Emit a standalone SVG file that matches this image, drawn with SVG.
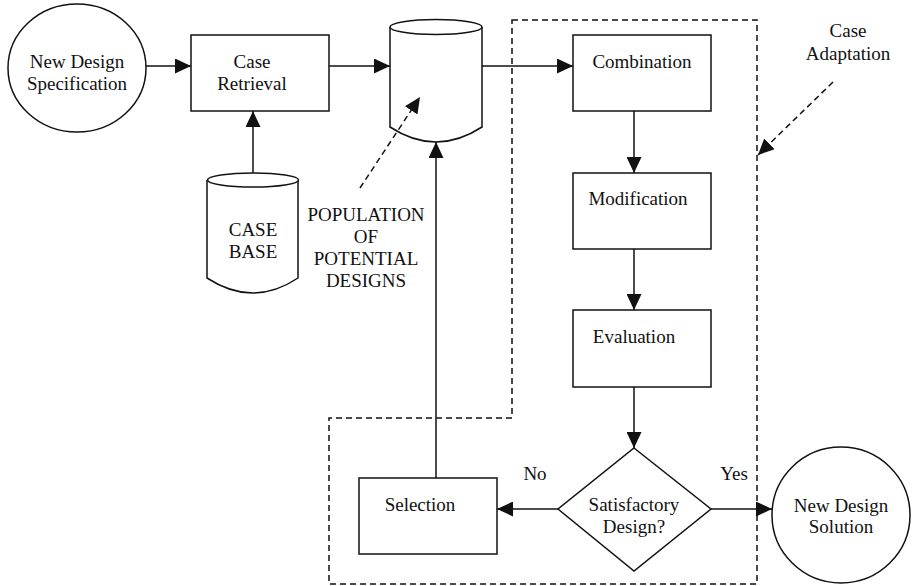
<svg xmlns="http://www.w3.org/2000/svg" width="912" height="586" viewBox="0 0 912 586">
  <style>
    text { font-family: "Liberation Serif", "Times New Roman", Times, serif; font-size: 19px; fill: #111; text-anchor: middle; }
    .shape { fill: #fff; stroke: #111; stroke-width: 1.5; }
    .edge { fill: none; stroke: #111; stroke-width: 1.5; }
    .dash { fill: none; stroke: #111; stroke-width: 1.5; stroke-dasharray: 6 4; }
  </style>
  <defs>
    <marker id="arrow" viewBox="0 0 16 15" refX="16" refY="7.5" markerWidth="16" markerHeight="15" markerUnits="userSpaceOnUse" orient="auto">
      <path d="M0,0 L16,7.5 L0,15 Z" fill="#111" stroke="none"/>
    </marker>
  </defs>

  <rect width="912" height="586" fill="#fff"/>

  <!-- adaptation boundary -->
  <path id="adaptation-boundary" class="dash" d="M512,20 H757 V584 H329 V418 H512 Z"/>

  <g id="connectors">
    <line class="edge" x1="146" y1="66" x2="191" y2="66" marker-end="url(#arrow)"/>
    <line class="edge" x1="329" y1="66" x2="390" y2="66" marker-end="url(#arrow)"/>
    <line class="edge" x1="482" y1="66" x2="573" y2="66" marker-end="url(#arrow)"/>
    <line class="edge" x1="253" y1="173" x2="253" y2="111" marker-end="url(#arrow)"/>
    <line class="edge" x1="634" y1="111" x2="634" y2="173" marker-end="url(#arrow)"/>
    <line class="edge" x1="634" y1="249" x2="634" y2="310" marker-end="url(#arrow)"/>
    <line class="edge" x1="634" y1="387" x2="634" y2="448" marker-end="url(#arrow)"/>
    <line class="edge" x1="558" y1="509" x2="497" y2="509" marker-end="url(#arrow)"/>
    <line class="edge" x1="711" y1="509" x2="772" y2="509" marker-end="url(#arrow)"/>
    <line class="edge" x1="436" y1="478" x2="436" y2="142" marker-end="url(#arrow)"/>
    <text x="535" y="480">No</text>
    <text x="734" y="480">Yes</text>
  </g>

  <g id="new-design-specification">
    <ellipse class="shape" cx="77" cy="68" rx="69" ry="64"/>
    <text x="77" y="68">New Design</text>
    <text x="77" y="90">Specification</text>
  </g>

  <g id="case-retrieval">
    <rect class="shape" x="191" y="35" width="138" height="76"/>
    <text x="252" y="68">Case</text>
    <text x="252" y="90">Retrieval</text>
  </g>

  <g id="population">
    <path class="shape" d="M390,27 V127 Q436,157 482,127 V27"/>
    <ellipse class="shape" cx="436" cy="27" rx="46" ry="7.5"/>
  </g>

  <g id="population-label">
    <text x="366" y="221">POPULATION</text>
    <text x="366" y="243">OF</text>
    <text x="366" y="265">POTENTIAL</text>
    <text x="366" y="287">DESIGNS</text>
  </g>

  <g id="case-base">
    <path class="shape" d="M207,180 V278 Q253,308 298,278 V180"/>
    <ellipse class="shape" cx="253" cy="180" rx="45.5" ry="7"/>
    <text x="253" y="236">CASE</text>
    <text x="253" y="258">BASE</text>
  </g>

  <g id="combination">
    <rect class="shape" x="573" y="35" width="138" height="76"/>
    <text x="642" y="68">Combination</text>
  </g>

  <g id="modification">
    <rect class="shape" x="573" y="173" width="138" height="76"/>
    <text x="638" y="205">Modification</text>
  </g>

  <g id="evaluation">
    <rect class="shape" x="573" y="310" width="138" height="77"/>
    <text x="634" y="343">Evaluation</text>
  </g>

  <g id="satisfactory-design">
    <path class="shape" d="M634,448 L711,509 L634,571 L558,509 Z"/>
    <text x="634" y="511">Satisfactory</text>
    <text x="634" y="533">Design?</text>
  </g>

  <g id="selection">
    <rect class="shape" x="359" y="478" width="138" height="76"/>
    <text x="420" y="511">Selection</text>
  </g>

  <g id="new-design-solution">
    <ellipse class="shape" cx="841" cy="515" rx="69" ry="68"/>
    <text x="841" y="512">New Design</text>
    <text x="841" y="533">Solution</text>
  </g>

  <g id="case-adaptation-label">
    <text x="848" y="37">Case</text>
    <text x="848" y="60">Adaptation</text>
  </g>

  <!-- dashed pointers from labels, drawn over the shapes they point into -->
  <g id="label-pointers">
    <line class="dash" x1="360" y1="188" x2="420" y2="97" marker-end="url(#arrow)"/>
    <line class="dash" x1="833" y1="82" x2="758" y2="155" marker-end="url(#arrow)"/>
  </g>
</svg>
